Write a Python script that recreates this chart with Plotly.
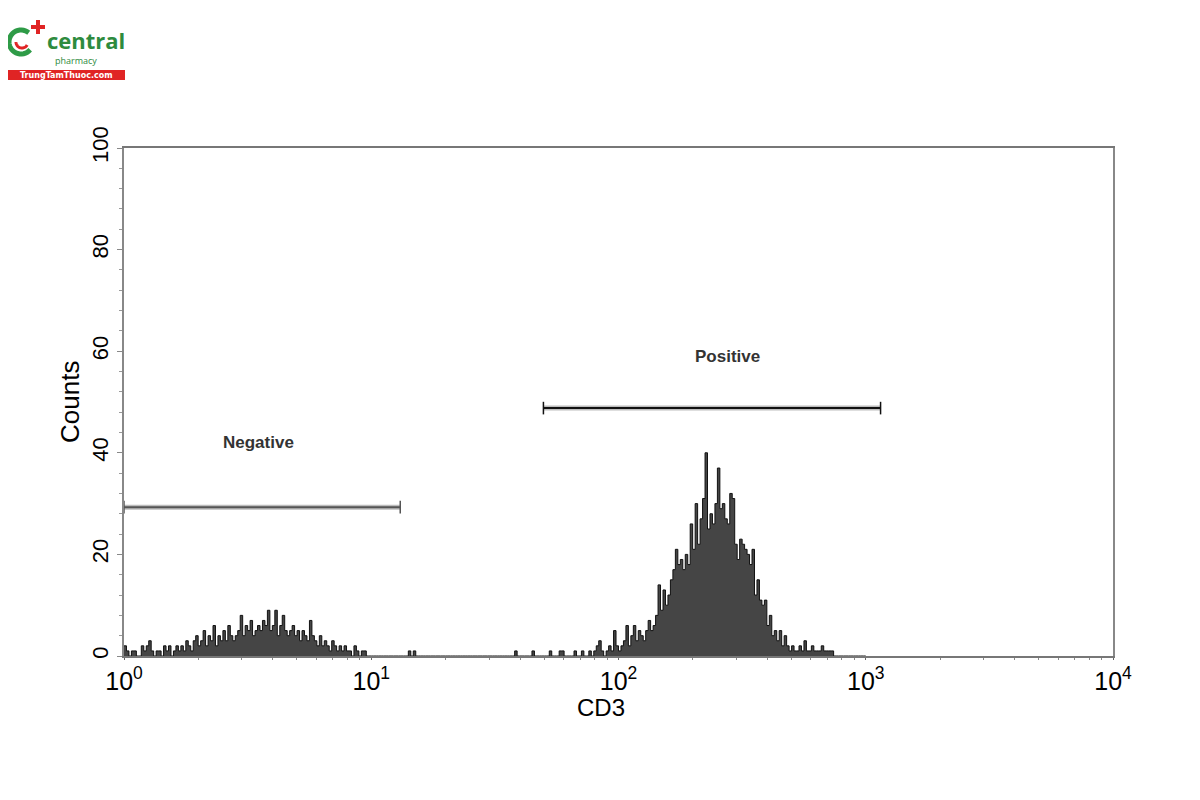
import numpy as np
import plotly.graph_objects as go

# histogram of CD3 fluorescence, 0.01 log-decade channels
bin_width = 0.01
n_bins = 300

neg_start = 0.00
neg_counts = [2, 1, 0, 1, 1, 0, 0, 2, 1, 2, 3, 1, 0, 1, 1, 0, 2, 1, 2, 0, 1, 2, 1,
              2, 1, 3, 2, 1, 3, 4, 2, 3, 5, 2, 4, 3, 6, 2, 4, 3, 5, 3, 6, 4, 3,
              4, 5, 8, 4, 6, 5, 7, 4, 5, 6, 5, 7, 6, 9, 5, 6, 9, 4, 6, 8, 5, 4,
              5, 6, 4, 5, 3, 5, 4, 3, 7, 4, 3, 2, 4,
              2, 3, 2, 1, 3, 2, 1, 2, 1, 2, 1,
              1, 0, 2, 1, 0, 1, 1]

pos_start = 1.88
pos_counts = [1, 0, 1, 2, 3, 1, 0, 1, 2, 1, 5, 2,
              1, 2, 3, 6, 2, 4, 6, 3, 5, 4, 3, 5, 7, 5, 6, 8, 14, 9, 13, 10,
              12, 15, 17, 21, 18, 19, 17, 20, 18, 26, 21, 30, 22, 27, 31, 40,
              25, 28, 26, 30, 37, 29, 30, 27, 26, 32, 31, 22, 19, 23, 22, 21,
              20, 18, 21, 12, 15, 11, 10, 11, 6, 8, 4, 5, 3, 5, 2, 4,
              2, 1, 2, 1, 1, 2, 1, 3, 1, 1, 2, 1, 1, 1, 2, 1, 1, 1, 1]

# single stray events (log position, count)
stray_pos = [1.15, 1.17, 1.58, 1.65, 1.72, 1.76, 1.77, 1.82, 1.85]
stray_cnt = [1, 1, 1, 1, 1, 1, 1, 1, 1]

# gates: [left, right] in CD3 units, height in counts
gate_names = ["Negative", "Positive"]
gate_lo = [1.0, 49.7]
gate_hi = [13.1, 1148]
gate_y = [29.3, 48.8]
label_x = [3.5, 275]
label_y = [42.1, 59.0]

counts = np.zeros(n_bins)
i0 = int(round(neg_start / bin_width))
counts[i0:i0 + len(neg_counts)] = neg_counts
i0 = int(round(pos_start / bin_width))
counts[i0:i0 + len(pos_counts)] = pos_counts
for p, c in zip(stray_pos, stray_cnt):
    counts[int(round(p / bin_width))] = c

edges = 10 ** (np.arange(n_bins + 1) * bin_width)
yvals = np.append(counts, 0)

fig = go.Figure()
fig.add_trace(go.Scatter(x=edges, y=yvals, mode='lines', line_shape='hv',
                         line=dict(color='#111111', width=1),
                         fill='tozeroy', fillcolor='#454545', showlegend=False,
                         hoverinfo='skip'))

gate_dark = ['#555555', '#111111']
for k in range(len(gate_names)):
    xs = [gate_lo[k], gate_hi[k]]
    ys = [gate_y[k], gate_y[k]]
    fig.add_trace(go.Scatter(x=xs, y=ys, mode='lines',
                             line=dict(color='#bdbdbd', width=5), showlegend=False))
    fig.add_trace(go.Scatter(x=xs, y=ys, mode='lines+markers',
                             line=dict(color=gate_dark[k], width=2),
                             marker=dict(symbol='line-ns', size=9,
                                         line=dict(color=gate_dark[k], width=1.5)),
                             showlegend=False))
    fig.add_annotation(x=np.log10(label_x[k]), y=label_y[k], text='<b>%s</b>' % gate_names[k],
                       showarrow=False, font=dict(size=17, color='#333333'))

# screen pixel -> paper helpers (plot area on screen: 124..1113 x 148..656)
L, R, T, B = 124, 1113, 148, 656
def px(x):
    return (x - L) / (R - L)
def py(y):
    return (B - y) / (B - T)

def arc_path(cx, cy, r, a0, a1, n=30):
    pts = []
    for a in np.linspace(np.radians(a0), np.radians(a1), n):
        pts.append('%.5f,%.5f' % (px(cx + r * np.cos(a)), py(cy - r * np.sin(a))))
    return 'M' + ' L'.join(pts)

shapes = [
    dict(type='path', xref='paper', yref='paper', path=arc_path(21, 42, 12, 50, 320),
         line=dict(color='#2e9b47', width=5)),
    dict(type='path', xref='paper', yref='paper', path=arc_path(22, 42, 6, 180, 330),
         line=dict(color='#e02424', width=3)),
    dict(type='rect', xref='paper', yref='paper', x0=px(36), x1=px(40), y0=py(34), y1=py(20),
         fillcolor='#e02424', line=dict(width=0)),
    dict(type='rect', xref='paper', yref='paper', x0=px(31), x1=px(45), y0=py(29), y1=py(25),
         fillcolor='#e02424', line=dict(width=0)),
    dict(type='rect', xref='paper', yref='paper', x0=px(8), x1=px(125), y0=py(80), y1=py(70),
         fillcolor='#e02424', line=dict(width=0)),
]
fig.add_annotation(xref='paper', yref='paper', x=px(45), y=py(40), xanchor='left', yanchor='middle',
                   text='<b>central</b>', showarrow=False,
                   font=dict(size=22, color='#2e8b3e', family='Open Sans'))
fig.add_annotation(xref='paper', yref='paper', x=px(53), y=py(60), xanchor='left', yanchor='middle',
                   text='pharmacy', showarrow=False,
                   font=dict(size=9, color='#2e8b3e', family='Open Sans'))
fig.add_annotation(xref='paper', yref='paper', x=px(66), y=py(75), xanchor='center', yanchor='middle',
                   text='<b>TrungTamThuoc.com</b>', showarrow=False,
                   font=dict(size=8, color='white', family='DejaVu Sans'))

# axis titles placed like the original
fig.add_annotation(xref='paper', yref='paper', x=px(601), y=py(707), xanchor='center', yanchor='middle',
                   text='CD3', showarrow=False, font=dict(size=24))
fig.add_annotation(xref='paper', yref='paper', x=px(70), y=py(402), xanchor='center', yanchor='middle',
                   text='Counts', textangle=-90, showarrow=False, font=dict(size=26))

fig.update_layout(
    width=1200, height=800,
    margin=dict(l=L - 8, r=1200 - (R - 8), t=T - 8, b=800 - (B - 8)),
    paper_bgcolor='white', plot_bgcolor='white',
    font=dict(family='Liberation Sans, Arial, sans-serif', color='black'),
    shapes=shapes,
)
fig.update_xaxes(type='log', range=[0, 4],
                 tickvals=[1, 10, 100, 1000, 10000],
                 ticktext=['10<sup>0</sup>', '10<sup>1</sup>', '10<sup>2</sup>',
                           '10<sup>3</sup>', '10<sup>4</sup>'],
                 tickfont=dict(size=25), ticks='outside', ticklen=2, tickcolor='#666',
                 minor=dict(tickvals=[m * 10 ** d for d in range(4) for m in range(2, 10)],
                            ticks='outside', ticklen=2, tickcolor='#888'),
                 showline=True, linecolor='#777', linewidth=1.5, mirror=True,
                 showgrid=False, zeroline=False)
fig.update_yaxes(range=[0, 100], tickvals=[0, 20, 40, 60, 80, 100], tickangle=-90,
                 tickfont=dict(size=22), ticks='outside', ticklen=5, tickcolor='#888',
                 minor=dict(dtick=4, ticks='outside', ticklen=3, tickcolor='#999'),
                 showline=True, linecolor='#888', linewidth=1.5, mirror=True,
                 showgrid=False, zeroline=False)

fig.write_html("out.html")
